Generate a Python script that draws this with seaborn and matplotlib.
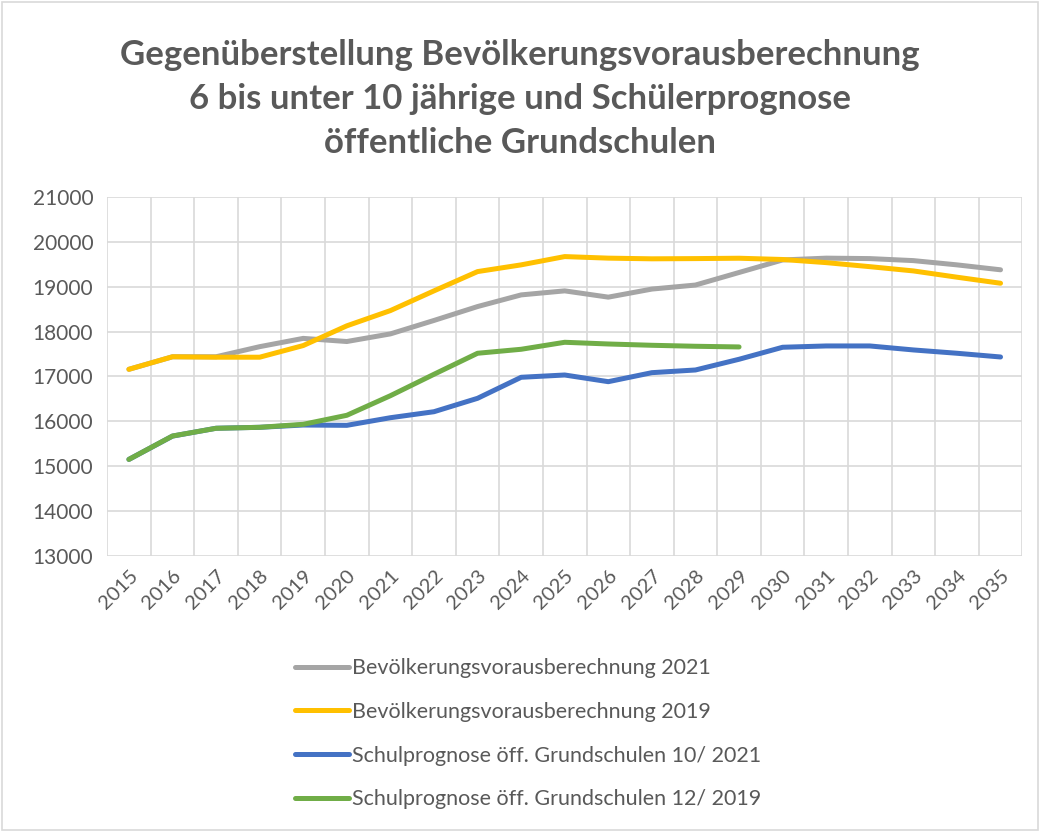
import seaborn as sns
import pandas as pd
import numpy as np
import matplotlib.pyplot as plt
from matplotlib.patches import Rectangle
from matplotlib.lines import Line2D

# Daten
jahre = list(range(2015, 2036))
bev_2021 = [17160, 17440, 17440, 17665, 17850, 17780, 17950, 18250, 18560, 18820, 18910,
            18770, 18950, 19040, 19320, 19600, 19640, 19630, 19585, 19490, 19380]
bev_2019 = [17160, 17440, 17430, 17430, 17690, 18130, 18470, 18910, 19340, 19490, 19675,
            19640, 19625, 19630, 19638, 19610, 19540, 19450, 19355, 19215, 19080]
schul_2021 = [15150, 15670, 15845, 15866, 15917, 15910, 16080, 16214, 16513, 16982, 17033,
              16884, 17085, 17145, 17384, 17652, 17681, 17681, 17592, 17518, 17435]
schul_2019 = [15150, 15672, 15844, 15866, 15933, 16134, 16571, 17049, 17518, 17607, 17763,
              17725, 17696, 17674, 17659] + [np.nan] * 6

namen = ['Bevölkerungsvorausberechnung 2021',
         'Bevölkerungsvorausberechnung 2019',
         'Schulprognose öff. Grundschulen 10/ 2021',
         'Schulprognose öff. Grundschulen 12/ 2019']
farben = ['#A5A5A5', '#FFC000', '#4472C4', '#70AD47']
reihen = [bev_2021, bev_2019, schul_2021, schul_2019]

df = pd.concat([pd.DataFrame({'Jahr': jahre, 'Wert': r, 'Reihe': n})
                for r, n in zip(reihen, namen)], ignore_index=True)

sns.set_style('white')
plt.rcParams['font.family'] = ['Lato', 'DejaVu Sans']
grau = '#595959'

fig = plt.figure(figsize=(10.4, 8.32), dpi=100)
ax = fig.add_axes([0.103, 0.332, 0.880, 0.431])

sns.lineplot(data=df, x='Jahr', y='Wert', hue='Reihe', hue_order=namen,
             palette=dict(zip(namen, farben)), linewidth=3.6, legend=False,
             ax=ax, solid_capstyle='round', zorder=3)

ax.set_xlim(2014.5, 2035.5)
ax.set_ylim(13000, 21000)
ax.set_yticks(range(13000, 21001, 1000))
ax.set_xticks(jahre)
ax.set_xticks(np.arange(2014.5, 2036, 1), minor=True)
ax.set_xticklabels([str(j) for j in jahre], rotation=45, ha='right',
                   rotation_mode='anchor', fontsize=14.5, color=grau)
ax.tick_params(axis='y', labelsize=15, labelcolor=grau, length=0, pad=10)
ax.tick_params(axis='x', which='both', length=0, pad=8)
ax.grid(axis='y', color='#D9D9D9', linewidth=1.2)
ax.grid(axis='x', which='minor', color='#D9D9D9', linewidth=1.2)
ax.grid(axis='x', which='major', visible=False)
ax.set_xlabel('')
ax.set_ylabel('')
for s in ax.spines.values():
    s.set_visible(False)

fig.text(0.5, 0.881,
         'Gegenüberstellung Bevölkerungsvorausberechnung\n'
         '6 bis unter 10 jährige und Schülerprognose\n'
         'öffentliche Grundschulen',
         ha='center', va='center', fontsize=25, fontweight='bold',
         color=grau, linespacing=1.45)

handles = [Line2D([0], [0], color=f, linewidth=3.6, solid_capstyle='round') for f in farben]
fig.legend(handles, namen, loc='upper left', bbox_to_anchor=(0.265, 0.232),
           frameon=False, fontsize=15.5, labelcolor=grau, handlelength=2.5,
           handletextpad=0.15, labelspacing=1.1)

fig.patches.append(Rectangle((0.002, 0.002), 0.996, 0.996, transform=fig.transFigure,
                             fill=False, edgecolor='#D9D9D9', linewidth=1.2))

plt.savefig('out.png', dpi=100)
